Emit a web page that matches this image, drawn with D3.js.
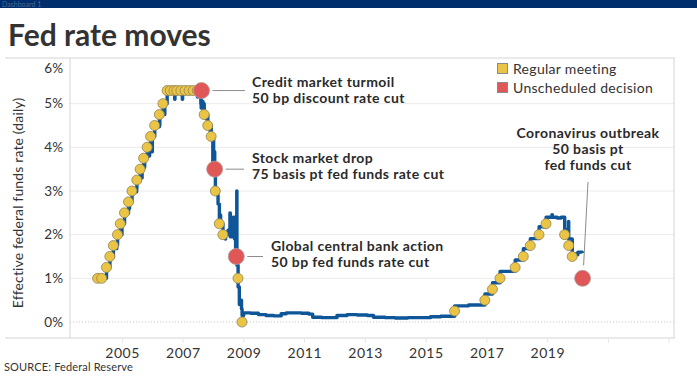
<!DOCTYPE html>
<html>
<head>
<meta charset="utf-8">
<script src="https://cdn.jsdelivr.net/npm/d3@7/dist/d3.min.js"></script>
<style>
  body { margin: 0; background: #fff; }
  svg { display: block; font-family: Lato, "Open Sans", sans-serif; }
</style>
</head>
<body>
<script>
// ---------------- DATA ----------------
const titleText = "Fed rate moves";
const yAxisTitle = "Effective federal funds rate (daily)";
const sourceText = "SOURCE: Federal Reserve";
const yTicks = [0, 1, 2, 3, 4, 5, 6];
const xTickYears = [2005, 2007, 2009, 2011, 2013, 2015, 2017, 2019, 2021, 2023];
const xLabelYears = [2005, 2007, 2009, 2011, 2013, 2015, 2017, 2019];

// Daily effective fed funds rate (step series)
const effDates = [
  "2004-02-20","2004-04-30","2004-05-03","2004-07-01","2004-08-11","2004-09-22","2004-10-29","2004-11-01","2004-11-11","2004-12-15","2004-12-30","2005-01-03",
  "2005-02-03","2005-03-23","2005-03-31","2005-04-04","2005-05-04","2005-06-29","2005-07-01","2005-08-10","2005-08-31","2005-09-02","2005-09-21","2005-09-30","2005-10-03",
  "2005-11-02","2005-11-30","2005-12-01","2005-12-14","2005-12-30","2006-01-03","2006-02-01","2006-03-29","2006-03-31","2006-04-03","2006-05-11","2006-05-31","2006-06-02",
  "2006-06-30","2006-09-29","2006-10-02","2006-12-29","2007-01-02","2007-06-29","2007-07-02","2007-08-09","2007-08-10","2007-08-13","2007-08-20","2007-09-04","2007-09-06",
  "2007-09-19","2007-10-15","2007-10-17","2007-11-01","2007-11-30","2007-12-03","2007-12-12","2007-12-31","2008-01-02","2008-01-10","2008-01-23","2008-01-31","2008-02-29",
  "2008-03-03","2008-03-19","2008-04-01","2008-04-03","2008-05-01","2008-05-30","2008-06-02","2008-07-01","2008-07-03","2008-07-24","2008-07-28","2008-08-29","2008-09-02",
  "2008-09-16","2008-09-18","2008-09-30","2008-10-09","2008-10-14","2008-10-16","2008-10-30","2008-11-14","2008-12-01","2008-12-10","2008-12-17",
  "2009-01-05","2009-04-01","2009-07-01","2009-10-01","2010-01-01","2010-04-01","2010-06-01","2010-09-01","2010-12-01","2011-03-01","2011-04-15","2011-08-01",
  "2011-12-01","2012-02-01","2012-06-01","2012-10-01","2013-02-01","2013-04-15","2013-09-01","2014-01-01","2014-06-01","2014-11-01","2015-03-01","2015-07-01","2015-11-01",
  "2015-12-17","2016-06-01","2016-12-15","2017-03-16","2017-06-15","2017-12-14","2018-03-22","2018-06-14","2018-09-27","2018-12-20","2019-03-01","2019-03-05",
  "2019-05-02","2019-06-20","2019-08-01","2019-09-16","2019-09-18","2019-10-31","2020-01-02","2020-01-06","2020-02-28"
];
const effValues = [
  1.00,0.96,1.00,1.25,1.48,1.74,1.68,1.76,1.99,2.23,2.00,2.25,
  2.49,2.73,2.60,2.76,2.98,3.05,3.24,3.48,3.30,3.50,3.74,3.55,3.76,
  3.97,3.80,3.98,4.22,3.90,4.25,4.47,4.72,4.50,4.74,4.95,4.75,5.00,
  5.24,5.10,5.25,5.10,5.26,5.15,5.26,5.00,5.10,4.90,5.05,4.90,5.00,
  4.75,4.65,4.75,4.50,4.30,4.50,4.25,3.60,4.20,3.90,3.40,3.00,2.90,
  2.70,2.25,2.45,2.25,2.00,1.90,2.00,2.10,2.00,2.50,1.95,2.40,2.00,
  2.40,1.90,1.70,1.50,3.00,1.30,0.80,0.40,0.50,0.30,0.15,
  0.21,0.20,0.17,0.15,0.14,0.19,0.21,0.21,0.20,0.18,0.11,0.10,
  0.10,0.15,0.17,0.16,0.15,0.11,0.10,0.09,0.10,0.10,0.12,0.13,0.13,
  0.37,0.39,0.64,0.90,1.16,1.42,1.68,1.91,2.18,2.40,2.46,2.40,
  2.38,2.40,2.12,2.30,1.90,1.56,1.54,1.60,1.58
];

// Regular FOMC meeting decisions (target rate)
const regularDates = [
  "2004-03-16","2004-05-04","2004-06-30","2004-08-10","2004-09-21","2004-11-10","2004-12-14",
  "2005-02-02","2005-03-22","2005-05-03","2005-06-30","2005-08-09","2005-09-20","2005-11-01","2005-12-13",
  "2006-01-31","2006-03-28","2006-05-10","2006-06-29","2006-08-08","2006-09-20","2006-10-25","2006-12-12",
  "2007-01-31","2007-03-21","2007-05-09","2007-06-28","2007-08-07","2007-09-18","2007-10-31","2007-12-11",
  "2008-01-30","2008-03-18","2008-04-30","2008-10-29","2008-12-16",
  "2015-12-16","2016-12-14","2017-03-15","2017-06-14","2017-12-13","2018-03-21","2018-06-13","2018-09-26","2018-12-19",
  "2019-07-31","2019-09-18","2019-10-30"
];
const regularValues = [
  1.00,1.00,1.25,1.50,1.75,2.00,2.25,
  2.50,2.75,3.00,3.25,3.50,3.75,4.00,4.25,
  4.50,4.75,5.00,5.30,5.30,5.30,5.30,5.30,
  5.30,5.30,5.30,5.30,5.30,4.75,4.50,4.25,
  3.00,2.25,2.00,1.00,0.00,
  0.25,0.50,0.75,1.00,1.25,1.50,1.75,2.00,2.25,
  2.00,1.75,1.50
];

// Unscheduled decisions
const unschedDates = ["2007-08-17","2008-01-22","2008-10-08","2020-03-03"];
const unschedValues = [5.30, 3.50, 1.50, 1.00];
const unschedLabels = [
  ["Credit market turmoil", "50 bp discount rate cut"],
  ["Stock market drop", "75 basis pt fed funds rate cut"],
  ["Global central bank action", "50 bp fed funds rate cut"],
  ["Coronavirus outbreak", "50 basis pt", "fed funds cut"]
];

const legendLabels = ["Regular meeting", "Unscheduled decision"];

// ---------------- STYLE / LAYOUT ----------------
const W = 697, H = 378;
const plot = { left: 70, right: 674, top: 58, bottom: 338 };
const lineColor = "#0f5698";
const yellow = "#eac545";
const red = "#e05757";
const gridColor = "#ebebeb";
const borderColor = "#d4d4d4";
const textColor = "#2a2a2a";
const font = 'Lato, "Open Sans", sans-serif';

const parse = d3.utcParse("%Y-%m-%d");

const svg = d3.select("body").append("svg")
  .attr("width", W).attr("height", H);

// top bar
svg.append("rect").attr("x", 0).attr("y", 0).attr("width", W).attr("height", 8).attr("fill", "#002d6b");
svg.append("text").attr("x", 2).attr("y", 6.5).attr("font-size", 7).attr("fill", "#4d6a94").text("Dashboard 1");

// title
svg.append("text").attr("x", 8).attr("y", 46)
  .attr("font-size", 30).attr("font-weight", 700).attr("fill", "#333")
  .text(titleText);

// scales
const x = d3.scaleUtc()
  .domain([parse("2003-04-19"), parse("2023-03-07")])
  .range([plot.left, plot.right]);
const y = d3.scaleLinear().domain([0, 6]).range([322, 60]);

// gridlines
svg.append("g").selectAll("line").data(yTicks.filter(d => d > 0 && d < 6)).join("line")
  .attr("x1", plot.left).attr("x2", plot.right)
  .attr("y1", d => y(d)).attr("y2", d => y(d))
  .attr("stroke", gridColor).attr("stroke-width", 1);
svg.append("line").attr("x1", plot.left).attr("x2", plot.right)
  .attr("y1", y(0)).attr("y2", y(0))
  .attr("stroke", "#c4c4c4").attr("stroke-width", 1).attr("stroke-dasharray", "1,2");

// panel borders
svg.append("line").attr("x1", 5).attr("x2", plot.right + 1).attr("y1", plot.top).attr("y2", plot.top)
  .attr("stroke", borderColor);
svg.append("line").attr("x1", 5).attr("x2", plot.right + 1).attr("y1", plot.bottom).attr("y2", plot.bottom)
  .attr("stroke", borderColor);
svg.append("line").attr("x1", plot.left).attr("x2", plot.left).attr("y1", plot.top).attr("y2", plot.bottom)
  .attr("stroke", borderColor);
svg.append("line").attr("x1", plot.right).attr("x2", plot.right).attr("y1", plot.top).attr("y2", plot.bottom)
  .attr("stroke", borderColor);

// y axis
const yAxis = svg.append("g").attr("transform", `translate(${plot.left},0)`)
  .call(d3.axisLeft(y).tickValues(yTicks).tickSize(0).tickPadding(7).tickFormat(d => d + "%"));
yAxis.select(".domain").remove();
yAxis.selectAll("text").attr("font-family", font).attr("font-size", 13.5).attr("fill", "#333");
yAxis.selectAll(".tick").filter(d => d === 6).select("text").attr("dy", "0.32em").attr("transform", "translate(0,8)");

// x axis
const xAxis = svg.append("g").attr("transform", `translate(0,${plot.bottom})`)
  .call(d3.axisBottom(x)
    .tickValues(xTickYears.map(yr => new Date(Date.UTC(yr, 0, 1))))
    .tickSize(5).tickPadding(5)
    .tickFormat(d => xLabelYears.includes(d.getUTCFullYear()) ? String(d.getUTCFullYear()) : ""));
xAxis.select(".domain").remove();
xAxis.selectAll("line").attr("stroke", "#e6e6e6");
xAxis.selectAll("text").attr("font-family", font).attr("font-size", 14).attr("letter-spacing", 0.5)
  .attr("dx", 0.25).attr("fill", "#333");

// y axis title
svg.append("text")
  .attr("transform", `translate(23,${(plot.top + plot.bottom) / 2 + 5}) rotate(-90)`)
  .attr("text-anchor", "middle").attr("font-size", 14).attr("letter-spacing", 0.15).attr("fill", "#333")
  .text(yAxisTitle);

// source
svg.append("text").attr("x", 4).attr("y", 371).attr("font-size", 11).attr("letter-spacing", 0.15)
  .attr("fill", "#333").text(sourceText);

// line
const eff = effDates.map((d, i) => ({ date: parse(d), v: effValues[i] }));
svg.append("path").datum(eff)
  .attr("fill", "none").attr("stroke", lineColor).attr("stroke-width", 3.4)
  .attr("stroke-linejoin", "round")
  .attr("d", d3.line().x(d => x(d.date)).y(d => y(d.v)).curve(d3.curveStepAfter));

// regular dots
const reg = regularDates.map((d, i) => ({ date: parse(d), v: regularValues[i] }));
svg.append("g").selectAll("circle").data(reg).join("circle")
  .attr("cx", d => x(d.date)).attr("cy", d => y(d.v)).attr("r", 5)
  .attr("fill", yellow).attr("stroke", "#8f8256").attr("stroke-width", 0.8);

// unscheduled dots
const uns = unschedDates.map((d, i) => ({ date: parse(d), v: unschedValues[i], label: unschedLabels[i] }));
svg.append("g").selectAll("circle").data(uns).join("circle")
  .attr("cx", d => x(d.date)).attr("cy", d => y(d.v)).attr("r", 8)
  .attr("fill", red).attr("stroke", "#b59a9a").attr("stroke-width", 0.8);

// annotations
const annot = [
  { tx: 252, ty: 87, lineEnd: 245, anchor: "start" },
  { tx: 252, ty: 163, lineEnd: 244, anchor: "start" },
  { tx: 271, ty: 251, lineEnd: 263, anchor: "start" },
  { tx: 588, ty: 138, anchor: "middle" }
];
uns.forEach((d, i) => {
  const a = annot[i];
  const cx = x(d.date), cy = y(d.v);
  if (a.anchor === "start") {
    svg.append("line").attr("x1", cx + 11).attr("x2", a.lineEnd)
      .attr("y1", cy).attr("y2", cy).attr("stroke", "#8c8c8c").attr("stroke-width", 1);
  } else {
    svg.append("line").attr("x1", a.tx).attr("y1", 182).attr("x2", cx + 1).attr("y2", cy - 13)
      .attr("stroke", "#8c8c8c").attr("stroke-width", 1);
  }
  const t = svg.append("text").attr("font-size", 14).attr("font-weight", 700)
    .attr("letter-spacing", 0.4)
    .attr("fill", textColor).attr("text-anchor", a.anchor);
  d.label.forEach((ln, j) => {
    t.append("tspan").attr("x", a.tx).attr("y", a.ty + j * 16.2).text(ln);
  });
});

// legend
const leg = svg.append("g");
[yellow, red].forEach((c, i) => {
  leg.append("rect").attr("x", 497.5).attr("y", 63.5 + i * 19).attr("width", 10).attr("height", 10)
    .attr("fill", c).attr("stroke", "#8a8a8a").attr("stroke-width", 1);
  leg.append("text").attr("x", 513).attr("y", 73.5 + i * 19).attr("font-size", 14).attr("letter-spacing", 0.3)
    .attr("fill", "#333").text(legendLabels[i]);
});
</script>
</body>
</html>
